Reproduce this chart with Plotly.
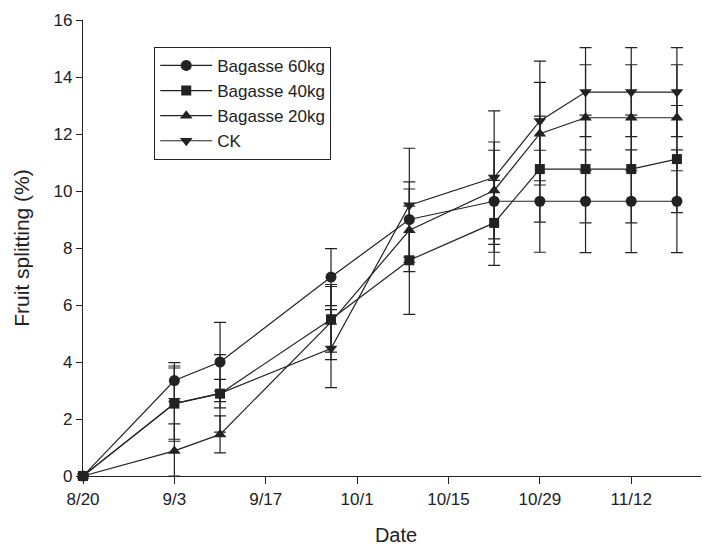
import plotly.graph_objects as go

dates = ["2020-08-20", "2020-09-03", "2020-09-10", "2020-09-27", "2020-10-09",
         "2020-10-22", "2020-10-29", "2020-11-05", "2020-11-12", "2020-11-19"]

bag60 = [0, 3.35, 4.00, 6.98, 9.00, 9.64, 9.64, 9.64, 9.64, 9.64]
bag60_err = [0, 0.63, 1.39, 1.00, 1.32, 1.79, 1.79, 1.80, 1.80, 1.80]

bag40 = [0, 2.54, 2.89, 5.50, 7.57, 8.88, 10.77, 10.77, 10.77, 11.12]
bag40_err = [0, 1.32, 0.50, 1.15, 1.90, 1.49, 1.86, 1.89, 1.89, 1.88]

bag20 = [0, 0.88, 1.46, 5.40, 8.62, 10.02, 12.01, 12.57, 12.57, 12.57]
bag20_err = [0, 0.95, 0.65, 1.32, 1.45, 1.70, 1.80, 1.86, 1.86, 1.86]
bag20_err_minus = [0, 0.88, 0.65, 1.32, 1.45, 1.70, 1.80, 1.86, 1.86, 1.86]

ck = [0, 2.54, 2.90, 4.47, 9.50, 10.47, 12.46, 13.47, 13.47, 13.47]
ck_err = [0, 1.25, 1.36, 1.37, 2.00, 2.34, 2.10, 1.56, 1.56, 1.56]

tick_vals = ["2020-08-20", "2020-09-03", "2020-09-17", "2020-10-01",
             "2020-10-15", "2020-10-29", "2020-11-12"]
tick_text = ["8/20", "9/3", "9/17", "10/1", "10/15", "10/29", "11/12"]

ink = "#222222"
font = "Arial, Liberation Sans, sans-serif"

series = [
    ("Bagasse 60kg", bag60, bag60_err, bag60_err, "circle", 11),
    ("Bagasse 40kg", bag40, bag40_err, bag40_err, "square", 10),
    ("Bagasse 20kg", bag20, bag20_err, bag20_err_minus, "triangle-up", 11),
    ("CK", ck, ck_err, ck_err, "triangle-down", 11),
]

fig = go.Figure()
for name, y, ep, em, sym, sz in series:
    fig.add_trace(go.Scatter(
        x=dates, y=y, name=name, mode="lines+markers",
        line=dict(color=ink, width=1.2),
        marker=dict(symbol=sym, size=sz, color=ink, line=dict(width=0)),
        error_y=dict(type="data", array=ep, arrayminus=em, symmetric=False,
                     color=ink, thickness=1.2, width=6),
        cliponaxis=False,
    ))

# the page body adds an 8px offset, so the figure is sized to fit inside the window
fig.update_layout(
    width=701, height=538,
    margin=dict(l=75, r=0, t=12, b=70, autoexpand=False),
    paper_bgcolor="white", plot_bgcolor="white",
    font=dict(family=font, size=17, color=ink),
    showlegend=True,
    legend=dict(x=0.1138, y=0.941, xanchor="left", yanchor="top",
                bordercolor=ink, borderwidth=1, bgcolor="white",
                font=dict(size=17, family=font, color=ink),
                tracegroupgap=0, itemwidth=52),
)
fig.update_xaxes(
    type="date", range=["2020-08-20", "2020-11-23 22:00"], automargin=False,
    tickmode="array", tickvals=tick_vals, ticktext=tick_text,
    showline=True, linecolor=ink, linewidth=1.2,
    ticks="outside", ticklen=7, tickcolor=ink, tickwidth=1.2,
    showgrid=False, zeroline=False,
    tickfont=dict(size=17, family=font, color=ink),
    title=dict(text="Date", font=dict(size=20, family=font, color=ink), standoff=21),
)
fig.update_yaxes(
    range=[0, 16], tickmode="array", tickvals=list(range(0, 17, 2)), automargin=False,
    showline=True, linecolor=ink, linewidth=1.2,
    ticks="outside", ticklen=6, tickcolor=ink, tickwidth=1.2,
    showgrid=False, zeroline=False,
    tickfont=dict(size=17, family=font, color=ink),
    title=dict(text="Fruit splitting (%)", font=dict(size=21, family=font, color=ink), standoff=18),
)

fig.write_html("out.html")
